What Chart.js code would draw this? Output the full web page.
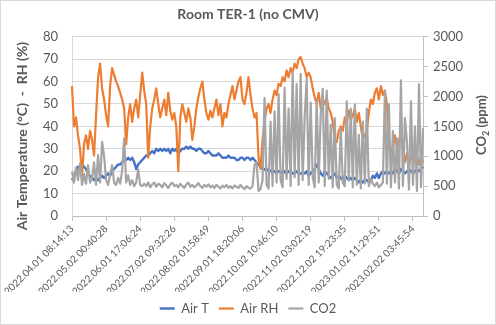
<!DOCTYPE html>
<html>
<head>
<meta charset="utf-8">
<script src="https://cdn.jsdelivr.net/npm/chart.js@4.4.1/dist/chart.umd.min.js"></script>
<style>
  html, body { margin: 0; padding: 0; background: #fff; }
  #wrap { width: 496px; height: 325px; }
</style>
</head>
<body>
<div id="wrap"><canvas id="roomChart" width="496" height="325"></canvas></div>
<script>
// Room TER-1, one sample every ~1.8 days, Apr 2022 - Feb 2023
const tempValues = [
  16, 18, 20, 22, 21, 23, 22, 21, 19, 18,
  17, 16, 17, 16, 17, 18, 17, 18, 19, 18,
  20, 21, 22, 23, 23, 24, 25, 25, 26, 25,
  26, 24, 21, 23, 24, 25, 26, 27, 27, 28,
  29, 28, 30, 29, 30, 29, 30, 29, 30, 28,
  30, 29, 30, 28, 29, 30, 30, 31, 30, 31,
  30, 30, 29, 30, 30, 29, 28, 28, 29, 28,
  27, 27, 27, 28, 27, 26, 26, 26, 27, 26,
  26, 26, 25, 25, 26, 26, 25, 26, 26, 25,
  26, 25, 24, 23, 22, 21, 21, 20, 21, 20,
  20, 20, 19, 20, 20, 19, 20, 19, 20, 20,
  19, 19, 20, 19, 19, 19, 19, 20, 18, 19,
  20, 21, 23, 21, 19, 18, 20, 19, 18, 17,
  18, 19, 17, 18, 17, 16, 18, 17, 16, 17,
  16, 17, 16, 15, 16, 15, 16, 16, 15, 16,
  18, 17, 19, 17, 19, 20, 19, 20, 19, 20,
  19, 21, 20, 19, 21, 20, 19, 20, 21, 20,
  19, 20, 21, 20, 21, 22
];

const rhValues = [
  58, 40, 44, 36, 30, 18, 32, 36, 30, 38,
  34, 27, 45, 62, 68, 57, 52, 45, 40, 58,
  66, 63, 60, 58, 55, 52, 48, 32, 44, 50,
  42, 48, 52, 44, 54, 64, 56, 50, 26, 40,
  48, 52, 57, 50, 44, 48, 52, 45, 55, 47,
  43, 46, 40, 20, 44, 50, 46, 42, 48, 44,
  34, 40, 48, 53, 57, 60, 52, 46, 43, 47,
  44, 48, 52, 45, 50, 40, 46, 44, 50, 54,
  58, 52, 56, 60, 62, 52, 50, 55, 62, 54,
  48, 44, 46, 26, 21, 34, 42, 48, 50, 46,
  52, 56, 54, 59, 58, 62, 60, 65, 62, 66,
  64, 68, 66, 70, 71, 68, 66, 62, 64, 62,
  57, 53, 50, 55, 48, 52, 50, 53, 48, 46,
  42, 34, 33, 38, 40, 38, 44, 42, 47, 43,
  45, 48, 42, 46, 40, 34, 36, 38, 46, 52,
  50, 55, 57, 52, 58, 54, 56, 50, 33, 29,
  31, 36, 30, 33, 38, 31, 24, 28, 22, 26,
  30, 24, 27, 23, 26, 24
];

const co2Values = [
  750, 560, 820, 600, 880, 520, 700, 540, 850, 560,
  620, 900, 520, 1020, 560, 1240, 1000, 600, 520, 700,
  850, 560, 520, 640, 540, 760, 1300, 560, 680, 520,
  600, 500, 560, 780, 520, 500, 540, 500, 560, 480,
  530, 560, 490, 540, 520, 480, 550, 510, 470, 530,
  560, 500, 520, 480, 540, 500, 470, 530, 560, 490,
  520, 480, 510, 550, 500, 470, 520, 490, 530, 480,
  510, 470, 520, 490, 460, 510, 480, 520, 470, 500,
  460, 510, 490, 470, 520, 480, 450, 500, 470, 460,
  500, 860, 900, 420, 450, 600, 1980, 520, 460, 1580,
  500, 1750, 560, 2040, 600, 480, 2150, 620, 1800, 500,
  2430, 650, 2210, 520, 2380, 600, 1650, 2300, 520, 1900,
  650, 480, 1960, 560, 1700, 2130, 500, 2100, 620, 1530,
  480, 1640, 520, 460, 1470, 560, 500, 1920, 600, 1800,
  480, 1870, 520, 1360, 460, 1580, 540, 1800, 500, 620,
  540, 500, 560, 480, 520, 560, 2100, 540, 1870, 480,
  1420, 560, 1300, 460, 2270, 500, 1640, 1240, 440, 1920,
  520, 1500, 420, 2210, 480, 1470
];

// sample index where each date label sits
const tickIndex = [0, 17, 34, 51, 68, 85, 102, 119, 136, 153, 170];
const tickLabels = [
  '2022.04.01 08:14:13', '2022.05.02 00:40:28', '2022.06.01 17:06:24',
  '2022.07.02 09:32:26', '2022.08.02 01:58:49', '2022.09.01 18:20:06',
  '2022.10.02 10:46:10', '2022.11.02 03:02:19', '2022.12.02 19:23:35',
  '2023.01.02 11:29:51', '2023.02.02 03:45:54'
];

const FONT = 'Lato, "Liberation Sans", sans-serif';
const GREY_TEXT = '#595959';

// frame around the chart plus the two rotated axis titles
const chartDecor = {
  id: 'chartDecor',
  beforeDraw(chart) {
    const ctx = chart.ctx;
    ctx.save();
    ctx.fillStyle = '#fff';
    ctx.fillRect(0, 0, chart.width, chart.height);
    ctx.restore();
  },
  afterDraw(chart) {
    const ctx = chart.ctx;
    ctx.save();
    ctx.strokeStyle = '#D9D9D9';
    ctx.lineWidth = 1;
    ctx.strokeRect(0.5, 0.5, chart.width - 1, chart.height - 1);

    ctx.fillStyle = GREY_TEXT;
    ctx.textBaseline = 'middle';

    // left title
    ctx.save();
    ctx.translate(22, 136);
    ctx.rotate(-Math.PI / 2);
    ctx.font = 'bold 14px ' + FONT;
    ctx.textAlign = 'center';
    ctx.fillText('Air Temperature (°C)  -  RH (%)', 0, 0);
    ctx.restore();

    // right title with subscript 2
    ctx.save();
    ctx.translate(482, 125);
    ctx.rotate(-Math.PI / 2);
    ctx.textAlign = 'left';
    const big = 'bold 13px ' + FONT;
    const small = 'bold 9px ' + FONT;
    ctx.font = big;
    const wCO = ctx.measureText('CO').width;
    const wRest = ctx.measureText(' (ppm)').width;
    ctx.font = small;
    const wSub = ctx.measureText('2').width;
    let x = -(wCO + wSub + wRest) / 2;
    ctx.font = big;
    ctx.fillText('CO', x, 0);
    x += wCO;
    ctx.font = small;
    ctx.fillText('2', x, 4);
    x += wSub;
    ctx.font = big;
    ctx.fillText(' (ppm)', x, 0);
    ctx.restore();

    ctx.restore();
  }
};

const ctx = document.getElementById('roomChart').getContext('2d');
new Chart(ctx, {
  type: 'line',
  data: {
    labels: tempValues.map((v, i) => i),
    datasets: [{
      label: 'Air T',
      data: tempValues,
      borderColor: '#4472C4',
      backgroundColor: '#4472C4',
      borderWidth: 2.4,
      yAxisID: 'y',
      order: 2
    }, {
      label: 'Air RH',
      data: rhValues,
      borderColor: '#ED7D31',
      backgroundColor: '#ED7D31',
      borderWidth: 2.2,
      yAxisID: 'y',
      order: 1
    }, {
      label: 'CO2',
      data: co2Values,
      borderColor: '#A5A5A5',
      backgroundColor: '#A5A5A5',
      borderWidth: 2.2,
      yAxisID: 'y1',
      order: 0
    }]
  },
  options: {
    responsive: false,
    animation: false,
    layout: { padding: 0 },
    elements: {
      point: { radius: 0 },
      line: { tension: 0, borderJoinStyle: 'round' }
    },
    scales: {
      x: {
        type: 'category',
        offset: false,
        afterBuildTicks: (scale) => {
          scale.ticks = tickIndex.map(v => ({ value: v }));
        },
        afterFit: (scale) => { scale.height = 76; },
        ticks: {
          autoSkip: false,
          minRotation: 45,
          maxRotation: 45,
          padding: 2,
          color: GREY_TEXT,
          font: { family: FONT, size: 10 },
          callback: (value) => tickLabels[tickIndex.indexOf(value)]
        },
        grid: { drawOnChartArea: false, tickLength: 5, color: '#BFBFBF' },
        border: { color: '#BFBFBF' }
      },
      y: {
        position: 'left',
        min: 0,
        max: 80,
        afterFit: (scale) => { scale.width = 72; },
        ticks: {
          stepSize: 10,
          padding: 14,
          color: GREY_TEXT,
          font: { family: FONT, size: 13 }
        },
        grid: { color: '#D9D9D9', drawTicks: false },
        border: { color: '#D9D9D9' }
      },
      y1: {
        position: 'right',
        min: 0,
        max: 3000,
        afterFit: (scale) => { scale.width = 73; },
        ticks: {
          stepSize: 500,
          padding: 5,
          color: GREY_TEXT,
          font: { family: FONT, size: 13 },
          callback: (value) => String(value)
        },
        grid: { drawOnChartArea: false, tickLength: 5, color: '#BFBFBF' },
        border: { color: '#BFBFBF' }
      }
    },
    plugins: {
      title: {
        display: true,
        text: 'Room TER-1 (no CMV)',
        color: GREY_TEXT,
        font: { family: FONT, size: 14, weight: 'bold' },
        padding: { top: 6, bottom: 14 }
      },
      legend: {
        position: 'bottom',
        labels: {
          color: GREY_TEXT,
          font: { family: FONT, size: 13 },
          usePointStyle: true,
          pointStyle: 'line',
          pointStyleWidth: 15,
          padding: 10,
          sort: (a, b) => a.datasetIndex - b.datasetIndex
        }
      },
      tooltip: { enabled: false }
    }
  },
  plugins: [chartDecor]
});
</script>
</body>
</html>
